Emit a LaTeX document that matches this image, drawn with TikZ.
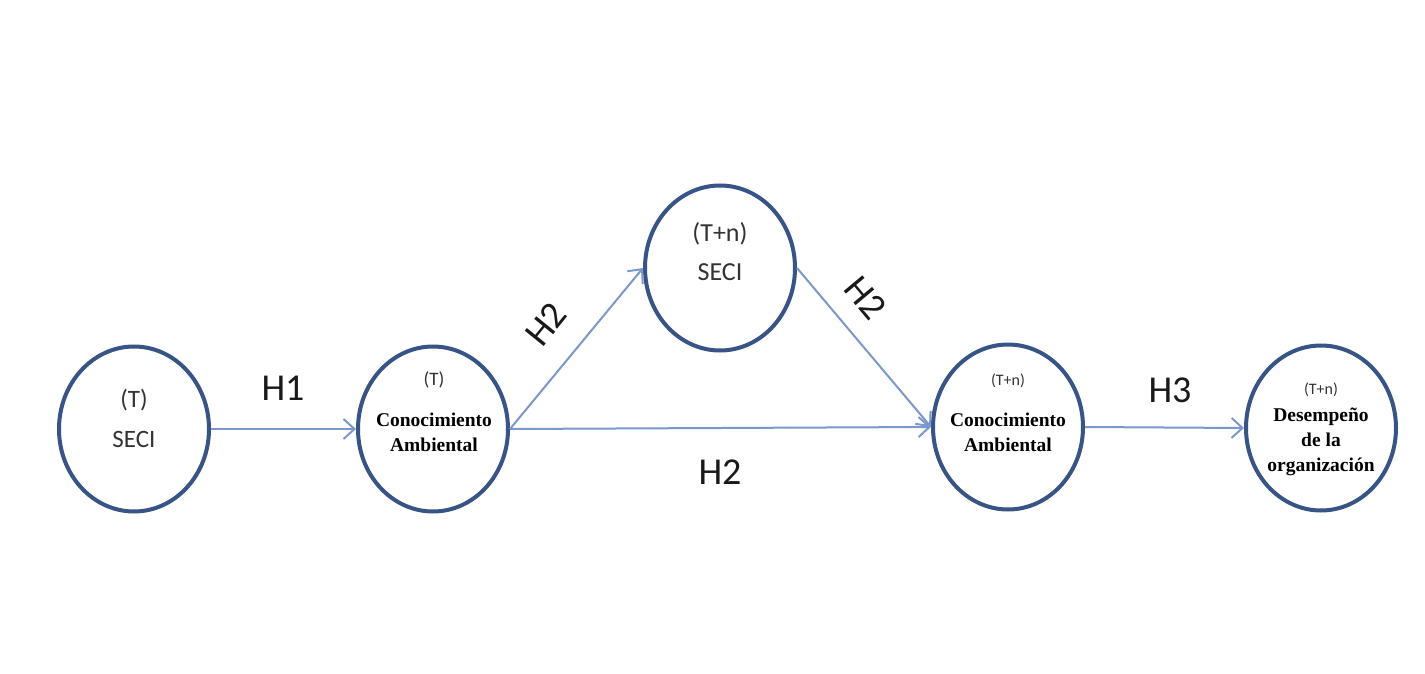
\documentclass[tikz,border=0pt]{standalone}
\usepackage{fontspec}
\setmainfont{Liberation Serif}
\newfontfamily\calib{Carlito}
\usetikzlibrary{arrows.meta, positioning, shapes.geometric}

\definecolor{ringblue}{RGB}{56,84,135}
\definecolor{arrowblue}{RGB}{122,152,204}

\tikzset{
  stage/.style={ellipse, draw=ringblue, line width=4pt, minimum width=150pt, minimum height=165pt, fill=white},
  link/.style={draw=arrowblue, line width=2pt, -{Straight Barb[length=11pt,width=20pt]}},
  hyp/.style={font=\calib\fontsize{38}{44}\selectfont, inner sep=0pt, text=black!90},
  bigtxt/.style={font=\calib\fontsize{25}{30}\selectfont, inner sep=0pt, text=black!80},
  smalltxt/.style={font=\calib\fontsize{16}{19}\selectfont, inner sep=0pt, text=black!80},
  vartxt/.style={font=\bfseries\fontsize{19.5}{25}\selectfont, align=center, inner sep=1pt, fill=white}
}

\begin{document}
\begin{tikzpicture}[x=1pt, y=-1pt]
\useasboundingbox[fill=white] (0,0) rectangle (1425,674);

% circles
\node[stage] (seciT) at (134,429) {};
\node[stage] (caT) at (433,429) {};
\node[stage] (seciN) at (720,268) {};
\node[stage] (caN) at (1008,427) {};
\node[stage] (desN) at (1321,428) {};

% texts in the circles
\node[bigtxt] (seciTtime) at (134,400) {(T)};
\node[bigtxt] (seciTname) at (134,439) {SECI};
\node[bigtxt, font=\calib\fontsize{26}{30}\selectfont] (seciNtime) at (720,234) {(T+n)};
\node[bigtxt, font=\calib\fontsize{26}{30}\selectfont] (seciNname) at (720,272) {SECI};
\node[smalltxt, font=\calib\fontsize{19}{22}\selectfont] (caTtime) at (434,380) {(T)};
\node[vartxt] (caTname) at (434,432) {Conocimiento\\Ambiental};
\node[smalltxt] (caNtime) at (1008,381) {(T+n)};
\node[vartxt] (caNname) at (1008,432) {Conocimiento\\Ambiental};
\node[smalltxt] (desNtime) at (1321,390) {(T+n)};
\node[vartxt] (desNname) at (1321,442) {Desempeño\\de la\\organización};

% arrows
\draw[link] (seciT.east) -- (caT.west);
\draw[link] (caT.east) -- (seciN.west);
\draw[link] (seciN.east) -- (caN.west);
\draw[link] (caT.east) -- (caN.west);
\draw[link] (caN.east) -- (desN.west);

% hypotheses
\node[hyp] (h1) at (283,388) {H1};
\node[hyp, rotate=51] (h2a) at (546,324) {H2};
\node[hyp, rotate=-50] (h2b) at (866,298) {H2};
\node[hyp] (h2c) at (720,472) {H2};
\node[hyp] (h3) at (1170,390) {H3};
\end{tikzpicture}
\end{document}
